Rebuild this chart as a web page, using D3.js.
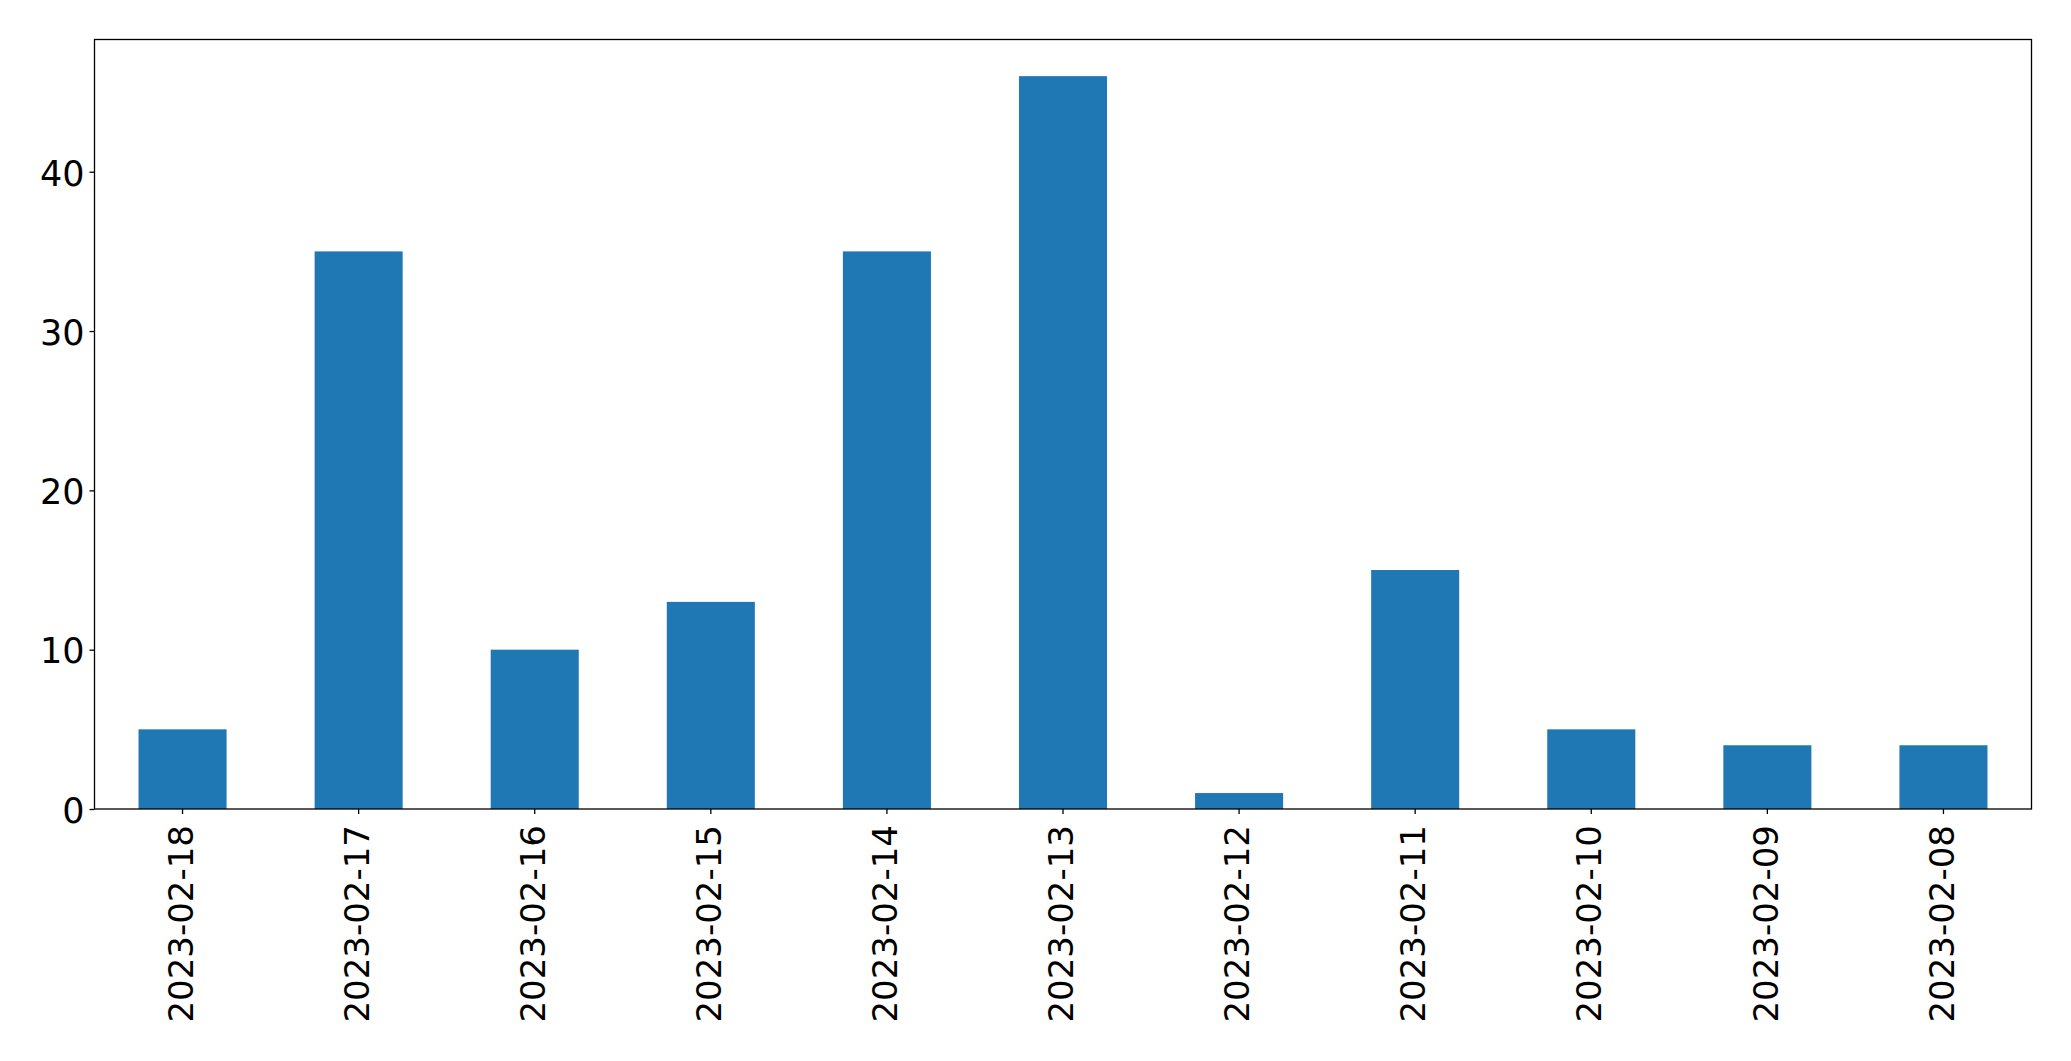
<!DOCTYPE html>
<html>
<head>
<meta charset="utf-8">
<script src="https://cdn.jsdelivr.net/npm/d3@7"></script>
<style>
html,body{margin:0;padding:0;background:#fff;}
svg{display:block;}
text{font-family:"DejaVu Sans",sans-serif;fill:#000;}
</style>
</head>
<body>
<script>
const categories = ["2023-02-18","2023-02-17","2023-02-16","2023-02-15","2023-02-14","2023-02-13","2023-02-12","2023-02-11","2023-02-10","2023-02-09","2023-02-08"];
const values = [5, 35, 10, 13, 35, 46, 1, 15, 5, 4, 4];
const yTicks = [0, 10, 20, 30, 40];

const W = 2071, H = 1061;
const m = {left: 94.5, right: 2031.5, top: 39.5, bottom: 809};
const svg = d3.select("body").append("svg").attr("width", W).attr("height", H);

const x = d3.scaleBand().domain(categories).range([m.left, m.right]).paddingInner(0.5).paddingOuter(0.25);
const y = d3.scaleLinear().domain([0, d3.max(values) * 1.05]).range([m.bottom, m.top]);

svg.append("g").selectAll("rect").data(values).join("rect")
  .attr("x", (d, i) => x(categories[i]))
  .attr("width", x.bandwidth())
  .attr("y", d => y(d))
  .attr("height", d => y(0) - y(d))
  .attr("fill", "#1f77b4");

const yAxis = svg.append("g").attr("transform", `translate(${m.left},0)`)
  .call(d3.axisLeft(y).tickValues(yTicks).tickSize(5).tickPadding(5).tickFormat(d3.format("d")));
yAxis.select(".domain").remove();
yAxis.selectAll("line").attr("stroke", "#000").attr("stroke-width", 1.3);
yAxis.selectAll("text").attr("font-size", 35).attr("font-family", "DejaVu Sans").attr("fill", "#000").attr("dy", "0.38em");

const xAxis = svg.append("g").attr("transform", `translate(0,${m.bottom})`)
  .call(d3.axisBottom(x).tickSize(5).tickPadding(0));
xAxis.select(".domain").remove();
xAxis.selectAll("line").attr("stroke", "#000").attr("stroke-width", 1.3);
xAxis.selectAll("text")
  .attr("font-size", 34).attr("font-family", "DejaVu Sans").attr("fill", "#000")
  .attr("text-anchor", "end")
  .attr("transform", "translate(0,16) rotate(-90)")
  .attr("x", 0).attr("y", 0).attr("dy", "0.3em");

svg.append("rect")
  .attr("x", m.left).attr("y", m.top)
  .attr("width", m.right - m.left).attr("height", m.bottom - m.top)
  .attr("fill", "none").attr("stroke", "#000").attr("stroke-width", 1.3);
</script>
</body>
</html>
